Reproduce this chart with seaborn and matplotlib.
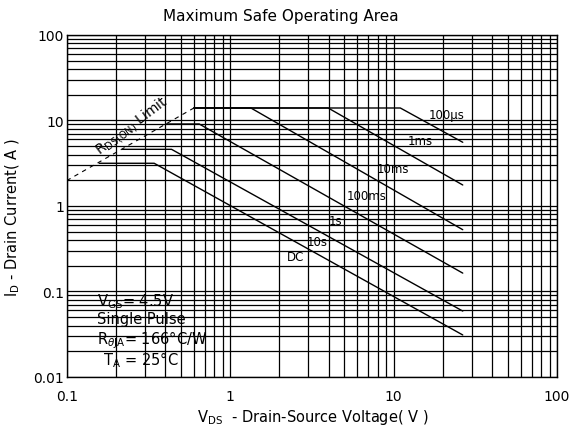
"""
Maximum Safe Operating Area (MOSFET datasheet style SOA chart)
"""

import pandas as pd
import seaborn as sns
import matplotlib.pyplot as plt

# curves (VDS in V, ID in A)
vds_100us = [0.60, 11.0, 26.5]
id_100us = [14.0, 14.0, 5.56]
vds_1ms = [0.60, 3.98, 26.5]
id_1ms = [14.0, 14.0, 1.76]
vds_10ms = [0.60, 1.34, 26.5]
id_10ms = [14.0, 14.0, 0.528]
vds_100ms = [0.405, 0.647, 26.5]
id_100ms = [9.1, 9.1, 0.164]
vds_10s = [0.219, 0.438, 26.5]
id_10s = [4.6, 4.6, 0.059]
vds_dc = [0.158, 0.343, 26.5]
id_dc = [3.16, 3.16, 0.031]

# RDS(on) limit (dashed)
rds_vds = [0.1, 0.60]
rds_id = [1.98, 14.0]

# curve labels
label_texts = ["100µs", "1ms", "10ms", "100ms", "1s", "10s", "DC"]
label_v = [21.2, 14.5, 9.85, 6.84, 4.4, 3.4, 2.52]
label_i = [11.6, 5.9, 2.78, 1.32, 0.673, 0.383, 0.258]

x_ticks = [0.1, 1, 10, 100]
x_ticklabels = ["0.1", "1", "10", "100"]
y_ticks = [0.01, 0.1, 1, 10, 100]
y_ticklabels = ["0.01", "0.1", "1", "10", "100"]

conditions = [
    "V$_\\mathregular{GS}$= 4.5V",
    "Single Pulse",
    "R$_{\\theta\\mathregular{JA}}$= 166°C/W",
    "T$_\\mathregular{A}$ = 25°C",
]

curves = {
    "100us": (vds_100us, id_100us),
    "1ms": (vds_1ms, id_1ms),
    "10ms": (vds_10ms, id_10ms),
    "100ms": (vds_100ms, id_100ms),
    "10s": (vds_10s, id_10s),
    "DC": (vds_dc, id_dc),
}
rows = []
for name, (v, i) in curves.items():
    for vv, ii in zip(v, i):
        rows.append({"curve": name, "vds": vv, "id": ii})
df = pd.DataFrame(rows)

sns.set_style("white")
plt.rcParams["font.family"] = ["DejaVu Sans"]
plt.rcParams["text.color"] = "black"
plt.rcParams["axes.labelcolor"] = "black"
plt.rcParams["xtick.color"] = "black"
plt.rcParams["ytick.color"] = "black"

fig = plt.figure(figsize=(5.74, 4.27), dpi=100)
ax = fig.add_axes([0.1162, 0.1148, 0.8542, 0.8009])

sns.lineplot(data=df, x="vds", y="id", units="curve", estimator=None,
             sort=False, color="black", linewidth=1.0, ax=ax, legend=False)
sns.lineplot(x=rds_vds, y=rds_id, color="black", linewidth=0.8,
             linestyle=(0, (4, 4)), ax=ax)

ax.set_xscale("log")
ax.set_yscale("log")
ax.set_xlim(0.1, 100)
ax.set_ylim(0.01, 100)
ax.set_xticks(x_ticks, x_ticklabels)
ax.set_yticks(y_ticks, y_ticklabels)
ax.tick_params(which="both", length=0, labelsize=10)
ax.tick_params(axis="x", pad=8.5)
ax.tick_params(axis="y", pad=2)
ax.grid(which="both", color="black", linewidth=0.9)
for s in ax.spines.values():
    s.set_color("black")
    s.set_linewidth(1.0)

for t, v, i in zip(label_texts, label_v, label_i):
    ax.text(v, i, t, ha="center", va="center", fontsize=8.5)

ax.text(0.25, 8.7, "R$_\\mathregular{DS(ON)}$ Limit", rotation=37,
        ha="center", va="center", fontsize=10, rotation_mode="anchor")

cond_x = [0.061, 0.061, 0.061, 0.075]
cond_y = [0.223, 0.170, 0.111, 0.053]
for t, x, y in zip(conditions, cond_x, cond_y):
    ax.text(x, y, t, transform=ax.transAxes, ha="left", va="center",
            fontsize=10.5)

ax.set_xlabel("V$_\\mathregular{DS}$  - Drain-Source Voltage( V )", fontsize=10.5)
ax.set_ylabel("I$_\\mathregular{D}$ - Drain Current( A )", fontsize=10.5)
ax.xaxis.set_label_coords(0.501, -0.088)
ax.yaxis.set_label_coords(-0.091, 0.468)

fig.text(0.489, 1 - 16 / 427, "Maximum Safe Operating Area",
         ha="center", va="center", fontsize=11)

fig.savefig("out.png", dpi=100)
plt.close()
